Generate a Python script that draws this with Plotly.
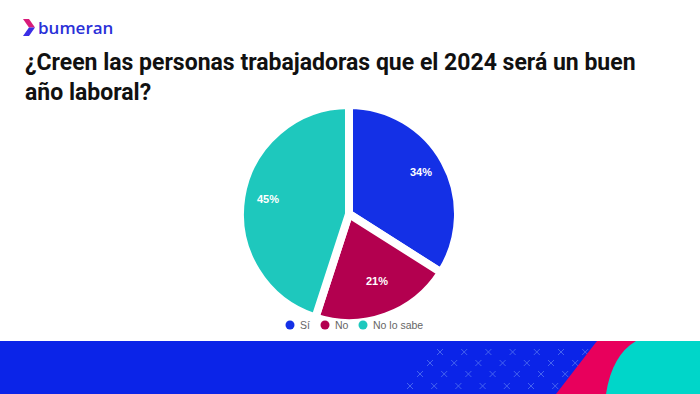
import math
import plotly.graph_objects as go

# ---- data ----
categories = ["Sí", "No", "No lo sabe"]
values = [34, 21, 45]
colors = ["#1430e6", "#b3004f", "#1ec8bd"]

W, H = 700, 394
def px(x):
    return x / W
def py(y):
    return 1 - y / H

# pie placement (pixels)
PX0, PX1, PY0, PY1 = 239, 459, 105, 323

fig = go.Figure()

fig.add_trace(go.Pie(
    labels=categories, values=values, sort=False, direction="clockwise", rotation=0,
    marker=dict(colors=colors, line=dict(color="white", width=8)),
    textinfo="none",
    domain=dict(x=[px(PX0), px(PX1)], y=[py(PY1), py(PY0)]),
    showlegend=False, hoverinfo="label+percent",
))

shapes = []
annotations = []

# percentage labels placed at ~0.78 of the radius along each slice's mid-angle
cx, cy = (PX0 + PX1) / 2, 211.5
R = 105
total = sum(values)
cum = 0
for v in values:
    mid = (cum + v / 2) / total * 2 * math.pi
    cum += v
    lx = cx + 0.78 * R * math.sin(mid)
    ly = cy - 0.78 * R * math.cos(mid)
    annotations.append(dict(text=f"{round(v / total * 100)}%", x=px(lx), y=py(ly),
                            xref="paper", yref="paper", showarrow=False,
                            font=dict(family="Liberation Sans, Arial, sans-serif", size=11,
                                      color="white", weight="bold")))

# manual legend (circle markers)
leg_x = [290, 325, 363]
for lx, c, col in zip(leg_x, categories, colors):
    r = 4.5
    shapes.append(dict(type="circle", xref="paper", yref="paper",
                       x0=px(lx - r), x1=px(lx + r), y0=py(325 + r), y1=py(325 - r),
                       fillcolor=col, line=dict(width=0)))
    annotations.append(dict(text=c, x=px(lx + 8), y=py(325), xref="paper", yref="paper",
                            xanchor="left", yanchor="middle", showarrow=False,
                            font=dict(family="Liberation Sans, Arial, sans-serif", size=10.5, color="#666666")))

# bottom banner
shapes.append(dict(type="rect", xref="paper", yref="paper", x0=0, x1=1, y0=0, y1=py(341),
                   fillcolor="#0b24e8", line=dict(width=0), layer="below"))
# x marks
rows = [(352, 440), (363, 430), (374, 420), (386, 410)]
for yy, x0 in rows:
    for k in range(7):
        xc = x0 + k * 24.2
        s = 3
        for (a, b) in [((xc - s, yy - s), (xc + s, yy + s)), ((xc - s, yy + s), (xc + s, yy - s))]:
            shapes.append(dict(type="line", xref="paper", yref="paper",
                               x0=px(a[0]), y0=py(a[1]), x1=px(b[0]), y1=py(b[1]),
                               line=dict(color="#4563ef", width=1)))
# pink stripe
shapes.append(dict(type="path", xref="paper", yref="paper",
                   path=f"M {px(597)},{py(341)} L {px(640)},{py(341)} L {px(612)},{py(394)} L {px(556)},{py(394)} Z",
                   fillcolor="#e8005c", line=dict(width=0)))
# teal curve
shapes.append(dict(type="path", xref="paper", yref="paper",
                   path=f"M {px(636)},{py(341)} L 1,{py(341)} L 1,0 L {px(606)},0 Q {px(612)},{py(355)} {px(636)},{py(341)} Z",
                   fillcolor="#00d6c9", line=dict(width=0)))
# logo chevron
shapes.append(dict(type="path", xref="paper", yref="paper",
                   path=f"M {px(23)},{py(19)} L {px(29)},{py(19)} L {px(35)},{py(27.5)} L {px(29)},{py(27.5)} Z",
                   fillcolor="#d81b7a", line=dict(width=0)))
shapes.append(dict(type="path", xref="paper", yref="paper",
                   path=f"M {px(29)},{py(27.5)} L {px(35)},{py(27.5)} L {px(29)},{py(36)} L {px(23)},{py(36)} Z",
                   fillcolor="#3a2ee6", line=dict(width=0)))

annotations += [
    dict(text="bumeran", x=px(36), y=py(28), xref="paper", yref="paper", xanchor="left", yanchor="middle",
         showarrow=False, font=dict(family="Open Sans, sans-serif", size=17, color="#2a30d8", weight=600)),
    dict(text="¿Creen las personas trabajadoras que el 2024 será un buen<br>año laboral?",
         x=px(23), y=py(47), xref="paper", yref="paper", xanchor="left", yanchor="top", align="left",
         showarrow=False,
         font=dict(family="Roboto, sans-serif", size=23, color="#111111", weight="bold")),
]

fig.update_layout(
    width=W, height=H, margin=dict(l=0, r=0, t=0, b=0, autoexpand=False),
    paper_bgcolor="white", plot_bgcolor="white",
    showlegend=False,
    shapes=shapes, annotations=annotations,
)

fig.write_html("out.html", config={"displayModeBar": False},
               post_script="document.body.style.margin='0';")
